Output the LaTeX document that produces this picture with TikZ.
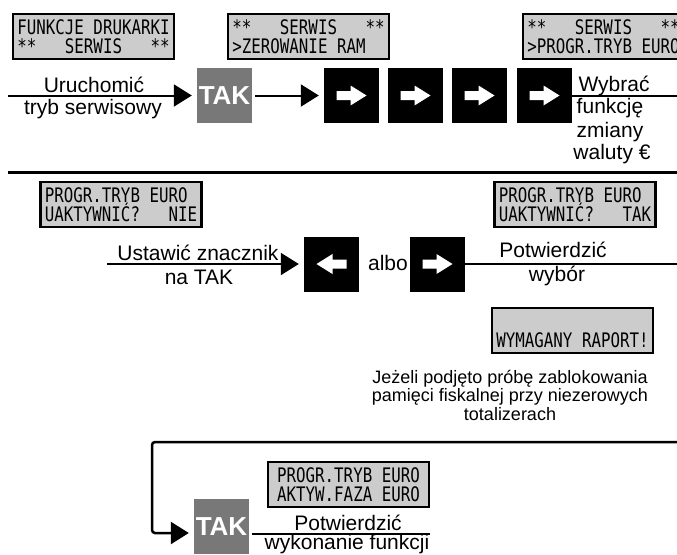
\documentclass[tikz,border=0pt]{standalone}
\usepackage{fontspec}
\setmainfont{Liberation Sans}
\newfontfamily\lcdfont{DejaVu Sans Mono}[FakeStretch=0.79]
\usetikzlibrary{arrows.meta}

\begin{document}
\begin{tikzpicture}[
    x=1pt, y=-1pt,
    lcd/.style={draw, line width=2.5pt, fill=black!20, minimum width=161pt, minimum height=45pt,
        inner sep=0pt, align=left, font=\lcdfont\fontsize{20}{19}\selectfont},
    tak/.style={fill=black!53, minimum size=55pt, inner sep=0pt, text=white,
        font=\bfseries\fontsize{26}{26}\selectfont},
    key/.style={fill=black, minimum size=55pt, inner sep=0pt},
    lbl/.style={inner sep=0pt, anchor=base, font=\fontsize{21}{24}\selectfont},
    note/.style={inner sep=0pt, anchor=north, align=center, font=\fontsize{18}{18.5}\selectfont},
    flow/.style={line width=2pt, -{Triangle[length=18pt, width=22pt]}, shorten >=5pt},
    wire/.style={line width=2pt},
    sep/.style={line width=3pt},
]
    \useasboundingbox (0,0) rectangle (677,554);
    \clip (0,0) rectangle (677,554);

    % Row 1: entering service mode
    \node[lcd] (lcd1) at (93.5, 36.5) {FUNKCJE~DRUKARKI\\**~~~SERWIS~~~**};
    \node[lcd] (lcd2) at (308.5, 36.5) {**~~~SERWIS~~~**\\>ZEROWANIE~RAM~~};
    \node[lcd] (lcd3) at (603.5, 36.5) {**~~~SERWIS~~~**\\>PROGR.TRYB~EURO};

    \coordinate (in1) at (8, 95.5);
    \node[tak] (tak1) at (224.5, 95.5) {TAK};
    \foreach \i/\x in {1/351.5, 2/415.5, 3/479.5, 4/544.5} {
        \node[key] (k\i) at (\x, 95.5) {};
        \fill[white, shift={(k\i.center)}] (-15,-4.5) -- (-1,-4.5) -- (-1,-10) -- (15,0)
            -- (-1,10) -- (-1,4.5) -- (-15,4.5) -- cycle;
    }
    \coordinate (out1) at (677, 95.5);

    \draw[flow] (in1) -- (tak1);
    \draw[flow, shorten <=3pt] (tak1) -- (k1);
    \draw[wire] (k4) -- (out1);

    \node[lbl] (l1a) at (94, 92) {Uruchomić};
    \node[lbl] (l1b) at (93, 114) {tryb serwisowy};
    \node[lbl] (l2a) at (614, 91) {Wybrać};
    \node[lbl] (l2b) at (610, 113) {funkcję};
    \node[lbl] (l2c) at (610, 137) {zmiany};
    \node[lbl] (l2d) at (612, 159) {waluty €};

    \coordinate (s1a) at (8, 172);
    \coordinate (s1b) at (677, 172);
    \draw[sep] (s1a) -- (s1b);

    % Row 2: setting the flag
    \node[lcd] (lcd4) at (121, 204.5) {PROGR.TRYB~EURO~\\UAKTYWNIĆ?~~~NIE};
    \node[lcd] (lcd5) at (575, 204.5) {PROGR.TRYB~EURO~\\UAKTYWNIĆ?~~~TAK};

    \coordinate (in2) at (107, 264);
    \node[key] (kl) at (331.5, 264) {};
    \fill[white, shift={(kl.center)}, xscale=-1] (-15,-4.5) -- (-1,-4.5) -- (-1,-10) -- (15,0)
        -- (-1,10) -- (-1,4.5) -- (-15,4.5) -- cycle;
    \node[lbl] (albo) at (388, 270) {albo};
    \node[key] (kr) at (437.5, 264) {};
    \fill[white, shift={(kr.center)}] (-15,-4.5) -- (-1,-4.5) -- (-1,-10) -- (15,0)
        -- (-1,10) -- (-1,4.5) -- (-15,4.5) -- cycle;
    \coordinate (out2) at (677, 264);

    \draw[flow] (in2) -- (kl);
    \draw[wire] (kr) -- (out2);

    \node[lbl] (l3a) at (198, 260) {Ustawić znacznik};
    \node[lbl] (l3b) at (199, 284) {na TAK};
    \node[lbl] (l4a) at (553, 257) {Potwierdzić};
    \node[lbl] (l4b) at (557, 281) {wybór};

    \node[lcd] (lcd6) at (572.5, 330.5) {\strut\\WYMAGANY~RAPORT!};
    \node[note] (note) at (510, 370) {Jeżeli podjęto próbę zablokowania\\pamięci fiskalnej przy niezerowych\\totalizerach};

    % Row 3: confirming
    \coordinate (s2a) at (677, 442);
    \coordinate (s2b) at (152, 442);
    \node[tak] (tak2) at (221.5, 526.5) {TAK};
    \node[lcd] (lcd7) at (348.5, 484.5) {PROGR.TRYB~EURO~\\AKTYW.FAZA~EURO~};
    \coordinate (out3) at (430, 534);

    \draw[flow, line width=2.5pt, rounded corners=3pt] (s2a) -- (s2b) |- ([yshift=-6.5pt]tak2.west);
    \draw[wire] ([xshift=3pt, yshift=-7.5pt]tak2.east) -- (out3);

    \node[lbl] (l5a) at (348, 530) {Potwierdzić};
    \node[lbl] (l5b) at (347, 549) {wykonanie funkcji};
\end{tikzpicture}
\end{document}
